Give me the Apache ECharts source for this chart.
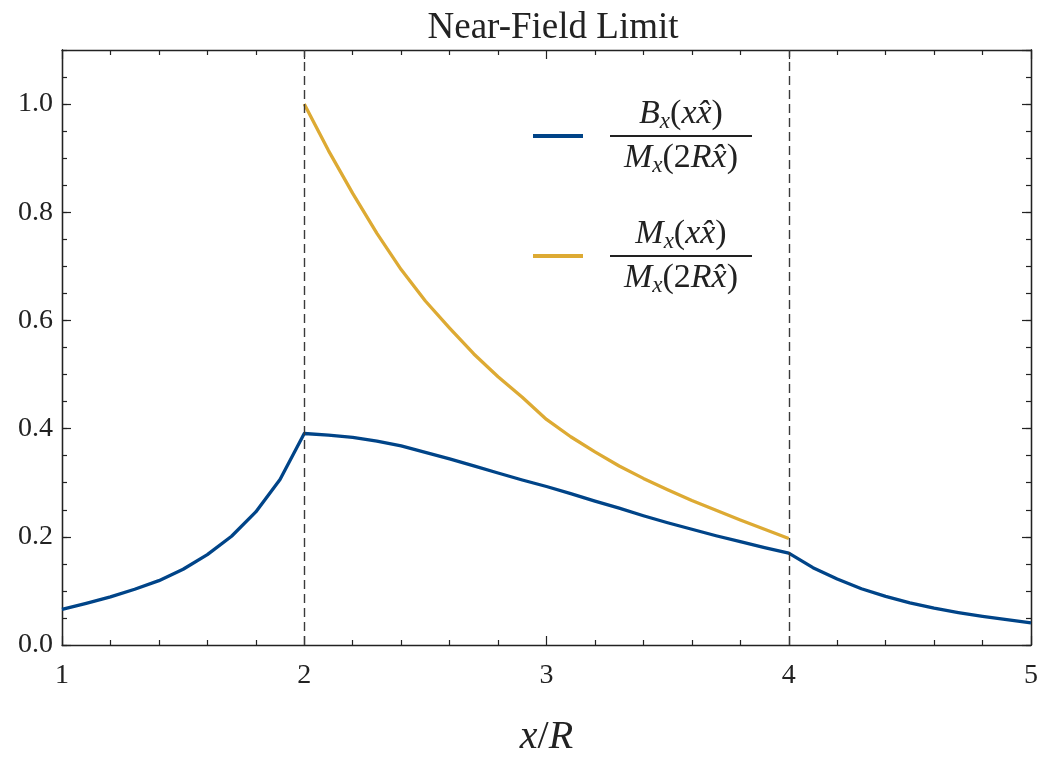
<!DOCTYPE html>
<html>
<head>
<meta charset="utf-8">
<script src="https://cdn.jsdelivr.net/npm/echarts@6/dist/echarts.min.js"></script>
<style>
html,body{margin:0;padding:0;background:#fff;}
#chart{width:1041px;height:762px;}
</style>
</head>
<body>
<div id="chart"></div>
<script>
// ---- data ----
const xB = [1.0,1.1,1.2,1.3,1.4,1.5,1.6,1.7,1.8,1.9,2.0,2.1,2.2,2.3,2.4,2.5,2.6,2.7,2.8,2.9,3.0,
            3.1,3.2,3.3,3.4,3.5,3.6,3.7,3.8,3.9,4.0,4.1,4.2,4.3,4.4,4.5,4.6,4.7,4.8,4.9,5.0];
const yB = [0.066,0.077,0.089,0.103,0.119,0.140,0.167,0.201,0.246,0.306,0.391,
            0.388,0.384,0.377,0.368,0.356,0.344,0.331,0.318,0.305,0.293,
            0.280,0.266,0.253,0.239,0.226,0.214,0.202,0.191,0.180,0.170,
            0.143,0.122,0.104,0.090,0.078,0.068,0.060,0.053,0.047,0.041];
const xM = [2.0,2.1,2.2,2.3,2.4,2.5,2.6,2.7,2.8,2.9,3.0,3.1,3.2,3.3,3.4,3.5,3.6,3.7,3.8,3.9,4.0];
const yM = [1.000,0.914,0.835,0.761,0.694,0.636,0.586,0.538,0.496,0.458,0.417,
            0.385,0.357,0.331,0.308,0.287,0.267,0.249,0.231,0.214,0.197];
const vLines = [2, 4];
const xTicks = {min:1, max:5, step:1};
const yTicks = {min:0, max:1.1, step:0.2, minor:0.05};
const titleText = 'Near-Field Limit';
const nameB = 'B';
const nameM = 'M';

const FONT = '"Liberation Serif", "Times New Roman", serif';
const INK = '#222';
const BLUE = '#004488';
const GOLD = '#DDAA33';

const chart = echarts.init(document.getElementById('chart'), null, {renderer:'canvas'});

const legendRich = {
  i:  {fontFamily:FONT, fontStyle:'italic', fontSize:34, color:INK, lineHeight:38, align:'center'},
  r:  {fontFamily:FONT, fontSize:34, color:INK, lineHeight:38, align:'center'},
  s:  {fontFamily:FONT, fontStyle:'italic', fontSize:23, color:INK, lineHeight:22, verticalAlign:'bottom', align:'center'},
  bar:{width:142, height:2, lineHeight:6, fontSize:2, backgroundColor:INK, align:'left'}
};
function fracLabel(name){
  const top = name === nameB
    ? '{i|B}{s|x}{r|(}{i|x}{i|x\u0302}{r|)}'
    : '{i|M}{s|x}{r|(}{i|x}{i|x\u0302}{r|)}';
  const bot = '{i|M}{s|x}{r|(2}{i|R}{i|x\u0302}{r|)}';
  return top + '\n{bar| }\n' + bot;
}

function yAxisDef(pos, step, len, labels){
  return {
    type:'value', position:pos, min:yTicks.min, max:yTicks.max, interval:step,
    axisLine:{show:true, lineStyle:{color:INK, width:1.3}},
    axisTick:{show:true, inside:true, length:len, lineStyle:{color:INK, width:1.2}},
    axisLabel:{show:labels, margin:9, showMaxLabel:false, fontFamily:FONT, fontSize:28, color:INK,
               formatter:v => v.toFixed(1)},
    splitLine:{show:false}
  };
}
function xAxisDef(pos, labels){
  return {
    type:'value', position:pos, min:xTicks.min, max:xTicks.max, interval:xTicks.step,
    axisLine:{show:true, onZero:false, lineStyle:{color:INK, width:1.3}},
    axisTick:{show:true, inside:true, length:9, lineStyle:{color:INK, width:1.2}},
    minorTick:{show:true, splitNumber:5, length:5, lineStyle:{color:INK, width:1.2}},
    axisLabel:{show:labels, margin:17, fontFamily:FONT, fontSize:28, color:INK},
    splitLine:{show:false},
    name: labels ? '{i|x}{r|/}{i|R}' : '',
    nameLocation:'middle', nameGap:72,
    nameTextStyle:{rich:{
      i:{fontFamily:FONT, fontStyle:'italic', fontSize:40, color:INK},
      r:{fontFamily:FONT, fontSize:40, color:INK}
    }}
  };
}

chart.setOption({
  animation:false,
  backgroundColor:'#fff',
  title:{text:titleText, left:548, textAlign:'center', top:5,
         textStyle:{fontFamily:FONT, fontWeight:'normal', fontSize:37, color:INK}},
  grid:{left:62, right:7, top:50, bottom:110, containLabel:false},
  xAxis:[xAxisDef('bottom', true), xAxisDef('top', false)],
  yAxis:[yAxisDef('left', yTicks.step, 9, true), yAxisDef('left', yTicks.minor, 5, false),
         yAxisDef('right', yTicks.step, 9, false), yAxisDef('right', yTicks.minor, 5, false)],
  legend:{
    data:[nameB, nameM], orient:'vertical', left:528, top:92,
    itemWidth:50, itemHeight:4, icon:'rect', itemGap:40,
    formatter:fracLabel,
    textStyle:{rich:legendRich, padding:[0,0,0,22]}
  },
  series:[
    {type:'line', name:'vlines', data:[], xAxisIndex:0, yAxisIndex:0, z:1, silent:true,
     markLine:{silent:true, symbol:['none','none'], label:{show:false},
               lineStyle:{color:'#3a3a3a', width:1.4, type:[9,5]},
               data:vLines.map(v => ({xAxis:v}))}},
    {type:'line', name:nameM, xAxisIndex:0, yAxisIndex:0, z:3, showSymbol:false, smooth:false,
     color:GOLD, lineStyle:{color:GOLD, width:3.3, join:'round'},
     data:xM.map((x,i) => [x, yM[i]])},
    {type:'line', name:nameB, xAxisIndex:0, yAxisIndex:0, z:4, showSymbol:false, smooth:false,
     color:BLUE, lineStyle:{color:BLUE, width:3.3, join:'round'},
     data:xB.map((x,i) => [x, yB[i]])}
  ]
});
</script>
</body>
</html>
